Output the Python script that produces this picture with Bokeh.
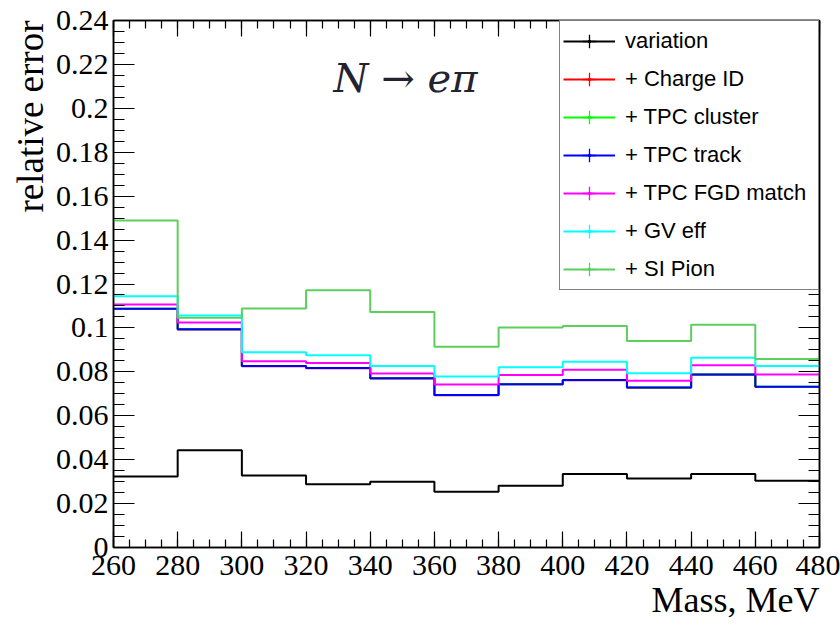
from bokeh.plotting import figure
from bokeh.models import (Range1d, FixedTicker, LinearAxis, Legend, LegendItem,
                          Label, Title, CustomJSTickFormatter)
from bokeh.embed import file_html
from bokeh.resources import INLINE

# ---------------- data ----------------
mass_edges = [260, 280, 300, 320, 340, 360, 380, 400, 420, 440, 460, 480]
variation   = [0.0323, 0.0443, 0.0328, 0.0288, 0.0299, 0.0254, 0.0281, 0.0335, 0.0314, 0.0335, 0.0304]
charge_id   = [0.1086, 0.0993, 0.0825, 0.0816, 0.0770, 0.0693, 0.0743, 0.0762, 0.0728, 0.0787, 0.0731]
tpc_cluster = [0.1087, 0.0994, 0.0826, 0.0817, 0.0771, 0.0694, 0.0744, 0.0763, 0.0729, 0.0788, 0.0732]
tpc_track   = [0.1087, 0.0994, 0.0826, 0.0817, 0.0771, 0.0694, 0.0744, 0.0763, 0.0729, 0.0788, 0.0732]
fgd_match   = [0.1107, 0.1025, 0.0848, 0.0840, 0.0792, 0.0742, 0.0786, 0.0810, 0.0759, 0.0830, 0.0788]
gv_eff      = [0.1144, 0.1056, 0.0889, 0.0875, 0.0827, 0.0779, 0.0821, 0.0846, 0.0794, 0.0864, 0.0826]
si_pion     = [0.1489, 0.1046, 0.1088, 0.1172, 0.1072, 0.0914, 0.1002, 0.1009, 0.0940, 0.1014, 0.0858]

series_names  = ["variation", "+ Charge ID", "+ TPC cluster", "+ TPC track",
                 "+ TPC FGD match", "+ GV eff", "+ SI Pion"]
series_values = [variation, charge_id, tpc_cluster, tpc_track, fgd_match, gv_eff, si_pion]
series_colors = ["#000000", "#ff0000", "#00ff00", "#0000ff", "#ff00ff", "#00ffff", "#5ccf5c"]

x_ticks = [260, 280, 300, 320, 340, 360, 380, 400, 420, 440, 460, 480]
y_ticks = [0, 0.02, 0.04, 0.06, 0.08, 0.1, 0.12, 0.14, 0.16, 0.18, 0.2, 0.22, 0.24]
x_minor = [260 + 5 * i for i in range(45)]
y_minor = [0.005 * i for i in range(49)]

x_title = "Mass, MeV"
y_title = "relative error"
plot_title = "N → eπ"

SERIF = "Liberation Serif"

p = figure(width=840, height=627, x_range=Range1d(260, 480), y_range=Range1d(0, 0.24),
           output_backend="svg", toolbar_location=None,
           min_border_left=113, min_border_right=21, min_border_top=20, min_border_bottom=80)
p.xgrid.grid_line_color = None
p.ygrid.grid_line_color = None
p.background_fill_color = "white"
p.border_fill_color = "white"
p.outline_line_color = "black"
p.outline_line_width = 1.5


def style_axis(ax, ticks, minor, tin, tmin, labels=True):
    ax.ticker = FixedTicker(ticks=ticks, minor_ticks=minor)
    ax.major_tick_in = tin
    ax.major_tick_out = 0
    ax.minor_tick_in = tmin
    ax.minor_tick_out = 0
    ax.axis_line_color = "black"
    ax.axis_line_width = 1.5
    ax.major_tick_line_color = "black"
    ax.minor_tick_line_color = "black"
    ax.major_tick_line_width = 1.2
    ax.minor_tick_line_width = 1.2
    if labels:
        ax.major_label_text_font = SERIF
        ax.major_label_text_font_size = "30px"
        ax.major_label_text_color = "black"
    else:
        ax.formatter = CustomJSTickFormatter(code="return ''")
        ax.major_label_text_font_size = "0px"
        ax.major_label_standoff = 0


xa = p.xaxis[0]
ya = p.yaxis[0]
style_axis(xa, x_ticks, x_minor, 16, 8)
style_axis(ya, y_ticks, y_minor, 21, 11)
ya.formatter = CustomJSTickFormatter(code="return String(tick)")
xa.major_label_standoff = 8
ya.major_label_standoff = 5

ra = LinearAxis()
style_axis(ra, y_ticks, y_minor, 21, 11, labels=False)
p.add_layout(ra, "right")
ta = LinearAxis()
style_axis(ta, x_ticks, x_minor, 16, 8, labels=False)
p.add_layout(ta, "above")

# ---------------- histograms ----------------
centers = [(a + b) / 2 for a, b in zip(mass_edges[:-1], mass_edges[1:])]
items = []
for name, vals, col in zip(series_names, series_values, series_colors):
    r = p.step(x=mass_edges, y=vals + [vals[-1]], mode="after",
               line_color=col, line_width=2)
    # zero-size markers: invisible in the frame, used for the legend symbol
    cr = p.scatter(x=centers, y=vals, marker="cross", size=0, line_color=col, line_width=1.3)
    dr = p.scatter(x=centers, y=vals, marker="dot", size=0, line_color=col, fill_color=col,
                   line_width=2)
    items.append(LegendItem(label=name, renderers=[r, cr, dr]))

legend = Legend(items=items, location="top_right")
legend.margin = 0
legend.padding = 3
legend.spacing = 4
legend.glyph_height = 34
legend.label_height = 34
legend.glyph_width = 52
legend.label_width = 190
legend.label_standoff = 10
legend.label_text_font = "Liberation Sans"
legend.label_text_font_size = "22px"
legend.label_text_color = "black"
legend.border_line_color = "black"
legend.border_line_width = 1.5
legend.background_fill_color = "white"
legend.background_fill_alpha = 1
p.add_layout(legend, "center")

# ---------------- texts ----------------
title = Label(x=351, y=0.2136, text=plot_title, text_align="center", text_baseline="middle",
              text_font="DejaVu Serif", text_font_style="italic", text_font_size="40px",
              text_color="#23232f")
p.add_layout(title)

xlab = Title(text=x_title, align="right", standoff=0, offset=0,
             text_font=SERIF, text_font_size="36px", text_font_style="normal",
             text_color="black")
p.add_layout(xlab, "below")

ylab = Title(text=y_title, align="right", standoff=4, offset=0,
             text_font=SERIF, text_font_size="37px", text_font_style="normal",
             text_color="black")
p.add_layout(ylab, "left")

open("out.html", "w").write(file_html(p, INLINE))
